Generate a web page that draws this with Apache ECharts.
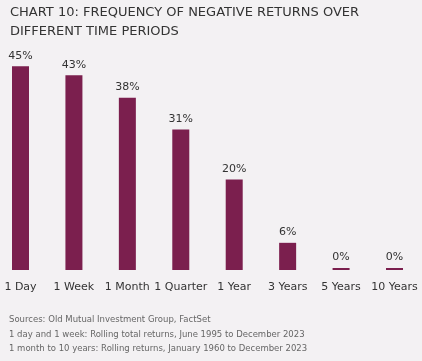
<!DOCTYPE html>
<html><head><meta charset="utf-8">
<script src="https://cdn.jsdelivr.net/npm/echarts@6/dist/echarts.min.js"></script>
<style>html,body{margin:0;padding:0;background:#f3f1f3;}#c{width:422px;height:361px;}</style>
</head><body><div id="c"></div>
<script>
const categories = ['1 Day','1 Week','1 Month','1 Quarter','1 Year','3 Years','5 Years','10 Years'];
const values = [45, 43, 38, 31, 20, 6, 0, 0];
const titleText = 'CHART 10: FREQUENCY OF NEGATIVE RETURNS OVER\nDIFFERENT TIME PERIODS';
const notes = ['Sources: Old Mutual Investment Group, FactSet',
  '1 day and 1 week: Rolling total returns, June 1995 to December 2023',
  '1 month to 10 years: Rolling returns, January 1960 to December 2023'];
const font = 'DejaVu Sans';
const chart = echarts.init(document.getElementById('c'));
chart.setOption({
  backgroundColor: '#f3f1f3',
  animation: false,
  title: [
    {text: titleText, left: 10, top: 3, padding: 0, textStyle: {fontFamily: font, fontSize: 13, fontWeight: 'normal', color: '#333', lineHeight: 19}},
    {text: notes.join('\n'), left: 9, top: 313, padding: 0, textStyle: {fontFamily: font, fontSize: 8.5, fontWeight: 'normal', color: '#666', lineHeight: 14.3}}
  ],
  grid: {left: 20.5, right: 27.5, top: 43.5, bottom: 91, containLabel: false},
  xAxis: {type: 'category', data: categories, boundaryGap: false,
    axisLine: {show: false}, axisTick: {show: false},
    axisLabel: {fontFamily: font, fontSize: 11, color: '#333', margin: 12, interval: 0}},
  yAxis: {type: 'value', min: 0, max: 50, show: false, splitLine: {show: false}},
  series: [{type: 'bar', data: values, barWidth: 17, barMinHeight: 2,
    itemStyle: {color: '#7b1f4e'},
    label: {show: true, position: 'top', distance: 5, formatter: '{c}%', fontFamily: font, fontSize: 11, color: '#333'}}]
});
</script></body></html>
